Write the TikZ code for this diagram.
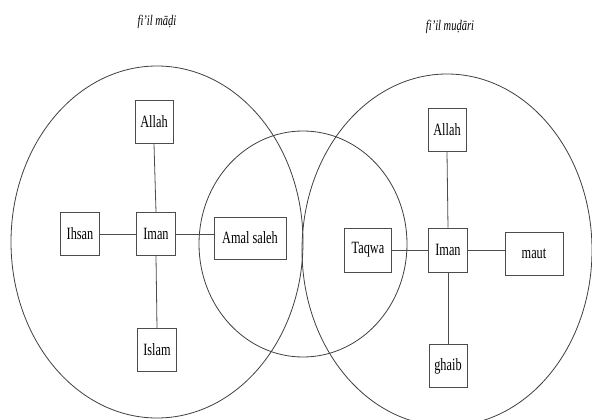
\documentclass[tikz,border=0pt]{standalone}
\usepackage{fontspec}
\setmainfont{Liberation Serif}
\usepackage{graphicx}
\newcommand\vstr[1]{\scalebox{1}[1.4]{#1}}
\tikzset{
  box/.style={draw=black!70, line width=0.8pt, inner sep=0pt, minimum height=43pt,
    font=\fontsize{12.3}{14}\selectfont, fill=white},
  ring/.style={draw=black!75, line width=0.8pt},
  link/.style={draw=black!70, line width=0.8pt},
  title/.style={font=\fontsize{10.5}{12}\selectfont\itshape}
}
\begin{document}
\begin{tikzpicture}[x=1pt,y=-1pt]
\useasboundingbox (0,0) rectangle (592,420);
\clip (0,0) rectangle (592,420);
\fill[white] (0,0) rectangle (592,420);
% circles
\draw[ring] (157,242) ellipse [x radius=146, y radius=176];
\draw[ring] (303,244) ellipse [x radius=104, y radius=113];
\draw[ring] (447,250) ellipse [x radius=145, y radius=176];
% titles
\node[title] (t1) at (157,22) {\vstr{fi'il māḍi}};
\node[title] (t2) at (450,27) {\vstr{fi'il muḍāri}};
% left cluster
\node[box, minimum width=38pt] (lallah) at (154,122) {\vstr{Allah}};
\node[box, minimum width=39pt] (ihsan) at (80,234) {\vstr{Ihsan}};
\node[box, minimum width=39pt] (liman) at (156,234) {\vstr{Iman}};
\node[box, minimum width=72pt, minimum height=42pt] (amal) at (250,238) {\vstr{Amal saleh}};
\node[box, minimum width=39pt] (islam) at (157,350) {\vstr{Islam}};
\draw[link] (lallah.south) -- (liman.north);
\draw[link] (liman.west) -- (ihsan.east);
\draw[link] (liman.east) -- (liman.east -| amal.west);
\draw[link] (liman.south) -- (islam.north);
% right cluster
\node[box, minimum width=38pt] (rallah) at (447,130) {\vstr{Allah}};
\node[box, minimum width=47pt, minimum height=44pt] (taqwa) at (368,250) {\vstr{Taqwa}};
\node[box, minimum width=39pt, minimum height=44pt] (riman) at (448,250) {\vstr{Iman}};
\node[box, minimum width=58pt] (maut) at (534,254) {\vstr{maut}};
\node[box, minimum width=38pt] (ghaib) at (448,366) {\vstr{ghaib}};
\draw[link] (rallah.south) -- (riman.north);
\draw[link] (riman.west) -- (taqwa.east);
\draw[link] (riman.east) -- (riman.east -| maut.west);
\draw[link] (riman.south) -- (ghaib.north);
\end{tikzpicture}
\end{document}
